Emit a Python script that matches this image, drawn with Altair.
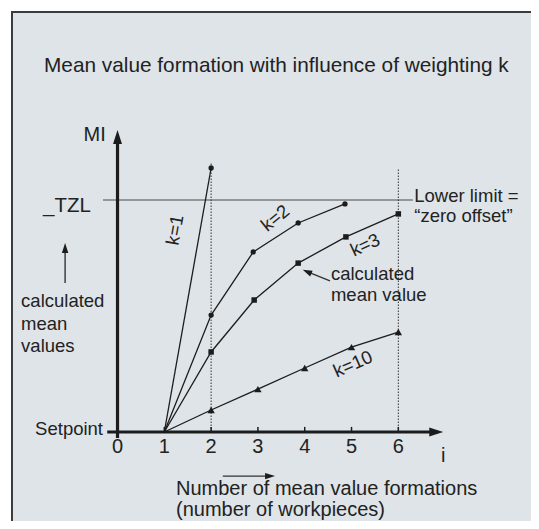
import altair as alt
import pandas as pd

# ---------------- data ----------------
title_text = "Mean value formation with influence of weighting k"
k_names = ["k=1", "k=2", "k=3", "k=10"]
k1_i = [1, 2]
k1_v = [0, 11.38]
k2_i = [1, 2, 2.9, 3.86, 4.86]
k2_v = [0, 5.04, 7.76, 9.01, 9.83]
k3_i = [1, 2, 2.92, 3.86, 4.88, 6]
k3_v = [0, 3.45, 5.69, 7.28, 8.41, 9.40]
k10_i = [1, 2, 3, 4, 5, 6]
k10_v = [0, 0.95, 1.85, 2.76, 3.66, 4.31]
k_shapes = ["circle", "circle", "square", "triangle-up"]
tick_values = [0, 1, 2, 3, 4, 5, 6]
tick_labels = ["0", "1", "2", "3", "4", "5", "6"]
tzl_value = 10

# ---------------- layout ----------------
W, H = 520, 510
XDOM = [-2.276, 8.835]
YDOM = [-3.836, 18.147]
INK = "#1c1c1c"
TXT = "#222222"
FONT = "Liberation Sans"

xs = alt.Scale(domain=XDOM, nice=False, zero=False)
ys = alt.Scale(domain=YDOM, nice=False, zero=False)

rows = []
marker_size = {"circle": 28, "square": 30, "triangle-up": 55}
for name, ii, vv, shp in zip(k_names, [k1_i, k2_i, k3_i, k10_i],
                             [k1_v, k2_v, k3_v, k10_v], k_shapes):
    for n, (a, b) in enumerate(zip(ii, vv)):
        rows.append({"k": name, "x": a, "y": b, "o": n, "shape": shp,
                     "show": n > 0, "s": marker_size[shp]})
series = pd.DataFrame(rows)

X = alt.X("x:Q", scale=xs, axis=None)
Y = alt.Y("y:Q", scale=ys, axis=None)
X2 = alt.X2("x2:Q")
Y2 = alt.Y2("y2:Q")

def rules(data, width, color, dash=None):
    kw = dict(strokeWidth=width, color=color)
    if dash:
        kw["strokeDash"] = dash
    return alt.Chart(pd.DataFrame(data, columns=["x", "x2", "y", "y2"])).mark_rule(**kw).encode(
        x=X, x2=X2, y=Y, y2=Y2)

# frame (left and top border of the figure box)
frame_l = alt.Chart(pd.DataFrame({"a": [0]})).mark_rule(color="#3c3c3c", strokeWidth=2).encode(
    x=alt.value(1), y=alt.value(0), y2=alt.value(H))
frame_t = alt.Chart(pd.DataFrame({"a": [0]})).mark_rule(color="#3c3c3c", strokeWidth=2).encode(
    y=alt.value(1), x=alt.value(0), x2=alt.value(W))

axes = rules([[0, 0, -0.26, 12.59], [-0.22, 6.72, 0, 0]], 3.2, INK)
ticks = rules([[t, t, 0, 0.22] for t in tick_values[1:]], 1.5, INK)
tzl = rules([[-0.31, 6.31, tzl_value, tzl_value]], 1.2, "#4a4a4a")
dotted = rules([[2, 2, 0, 11.64], [6, 6, 0, 11.38]], 1.0, "#333333", [1.5, 1.5])
shafts = rules([[-1.12, -1.12, 6.42, 7.84], [2.25, 3.17, -1.90, -1.90],
                [4.54, 4.05, 6.51, 6.91]], 1.4, "#333333")

ARROW = "M0,-1L0.64,1L-0.64,1Z"
heads = alt.Chart(pd.DataFrame({
    "x": [0, 6.81, -1.12, 3.26, 4.05],
    "y": [12.72, 0, 7.93, -1.90, 6.91],
    "a": [0, 90, 0, 90, 294],
    "s": [196, 196, 100, 100, 90],
})).mark_point(shape=ARROW, filled=True, color=INK, opacity=1, strokeWidth=0).encode(
    x=X, y=Y, angle=alt.Angle("a:Q", scale=None), size=alt.Size("s:Q", scale=None))

lines = alt.Chart(series).mark_line(color=INK, strokeWidth=1.3).encode(
    x=X, y=Y, detail="k:N", order="o:Q")
points = alt.Chart(series).transform_filter("datum.show").mark_point(
    filled=True, color=INK, opacity=1, strokeWidth=0).encode(
    x=X, y=Y, shape=alt.Shape("shape:N", scale=None), size=alt.Size("s:Q", scale=None))

def texts(data, align, baseline="alphabetic", rotated=False):
    df = pd.DataFrame(data, columns=["x", "y", "t", "fs", "a"])
    enc = dict(x=X, y=Y, text="t:N", size=alt.Size("fs:Q", scale=None))
    if rotated:
        enc["angle"] = alt.Angle("a:Q", scale=None)
    return alt.Chart(df).mark_text(align=align, baseline=baseline, font=FONT, color=TXT).encode(**enc)

left_txt = texts([
    [-1.57, 15.50, title_text, 20.8, 0],
    [-2.06, 5.39, "calculated", 18.5, 0],
    [-2.06, 4.40, "mean", 18.5, 0],
    [-2.06, 3.45, "values", 18.5, 0],
    [6.34, 9.91, "Lower limit =", 18.5, 0],
    [6.34, 9.05, "\u201czero offset\u201d", 18.5, 0],
    [4.56, 6.55, "calculated", 18.5, 0],
    [4.56, 5.65, "mean value", 18.5, 0],
    [1.25, -2.72, "Number of mean value formations", 20, 0],
    [1.25, -3.62, "(number of workpieces)", 20, 0],
], "left")
right_txt = texts([
    [-0.25, 12.54, "MI", 20, 0],
    [-0.57, 9.48, "_TZL", 20.5, 0],
    [-0.31, -0.13, "Setpoint", 18.5, 0],
], "right")
center_txt = texts([[v, -0.905, lab, 20, 0] for v, lab in zip(tick_values, tick_labels)]
                   + [[6.96, -1.29, "i", 20, 0]], "center")
k_txt = texts([
    [1.23, 8.71, "k=1", 18.5, 280],
    [3.37, 9.22, "k=2", 18.5, 321],
    [5.29, 8.06, "k=3", 18.5, 335],
    [5.03, 2.93, "k=10", 18.5, 336],
], "center", baseline="middle", rotated=True)

chart = alt.layer(
    frame_l, frame_t, tzl, dotted, axes, ticks, shafts, heads, lines, points,
    left_txt, right_txt, center_txt, k_txt,
).properties(
    width=W, height=H, autosize=alt.AutoSizeParams(type="none"),
    padding={"left": 3, "top": 3, "right": 0, "bottom": 0},
    background="white",
).configure_view(strokeWidth=0, fill="#dee4e8")

chart.save("out.html", embed_options={"renderer": "svg", "actions": False})
